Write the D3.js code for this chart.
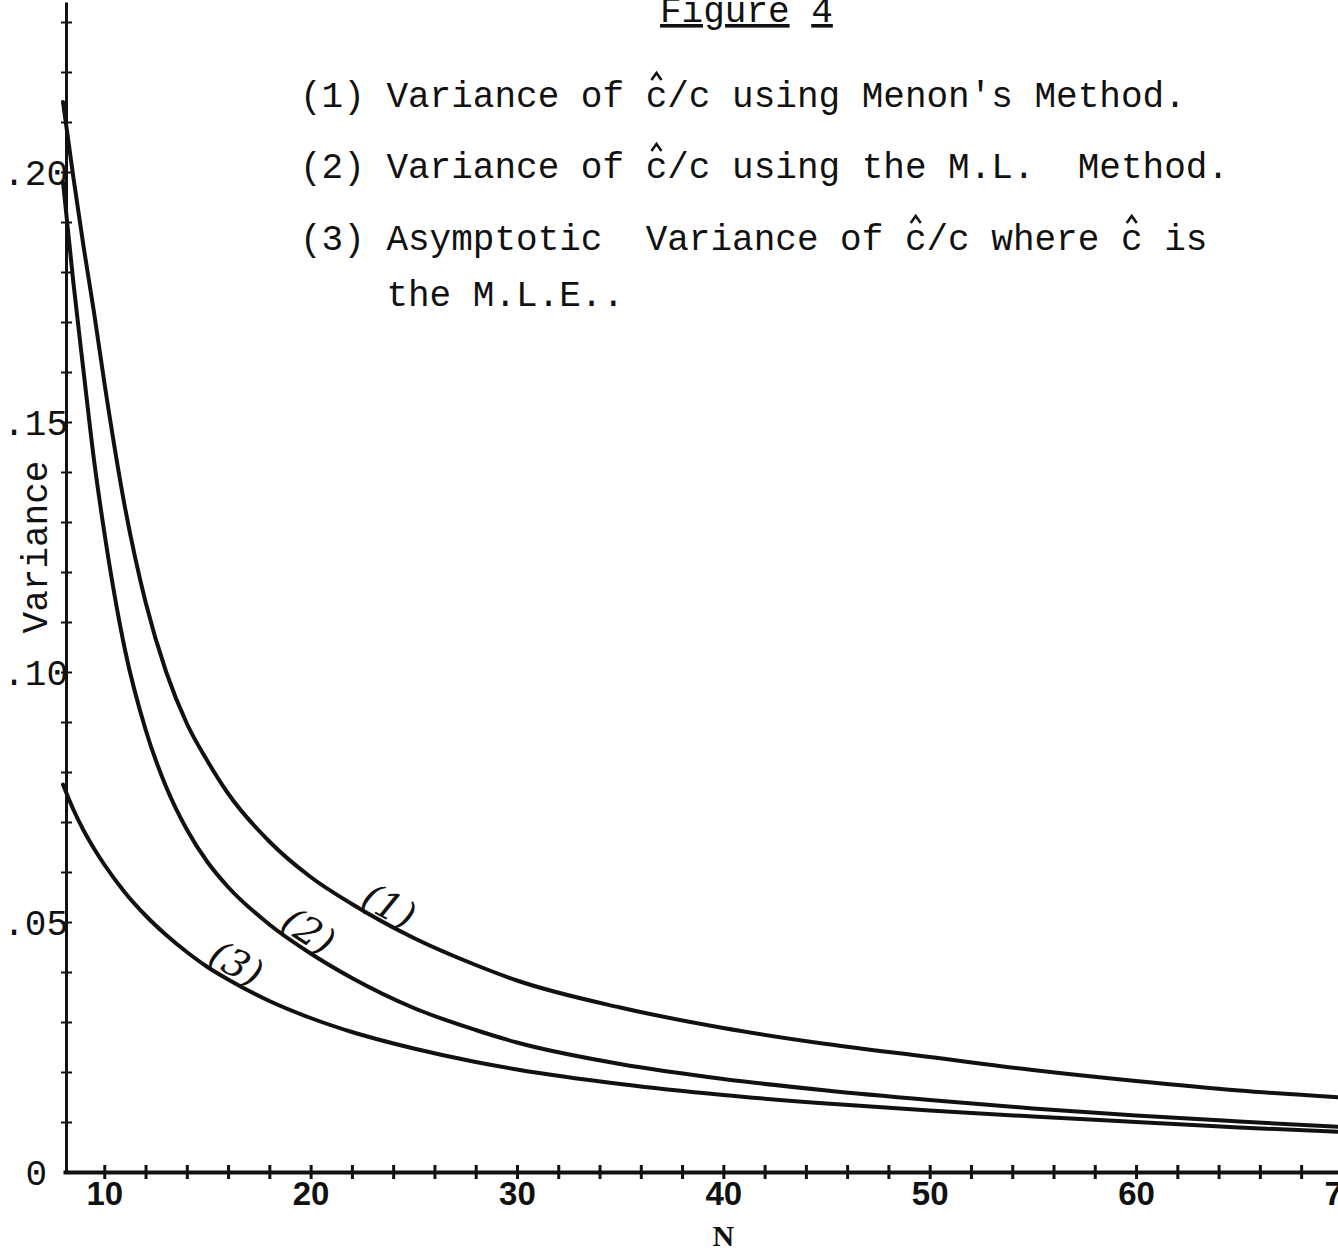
<!DOCTYPE html>
<html><head><meta charset="utf-8">
<script src="https://cdn.jsdelivr.net/npm/d3@7"></script>
<style>
html,body{margin:0;padding:0;background:#fff;}
svg{display:block;}
.mono{font-family:"Liberation Mono","DejaVu Sans Mono",monospace;white-space:pre;fill:#111;}
</style></head><body>
<svg id="chart" width="1338" height="1252"></svg>
<script>
// ---- data ----
const sampleN = [8, 8.5, 9, 9.5, 10, 11, 12, 13, 14, 15, 16, 18, 20, 22, 25, 28, 30, 35, 40, 45, 50, 55, 60, 65, 70];
const varMenon = [0.214, 0.199, 0.185, 0.172, 0.158, 0.133, 0.114, 0.1, 0.0897, 0.0822, 0.0757, 0.0661, 0.059, 0.0536, 0.0468, 0.0414, 0.0383, 0.0329, 0.0288, 0.0256, 0.023, 0.0204, 0.0182, 0.0163, 0.0149];
const varML    = [0.198, 0.178, 0.160, 0.1425, 0.128, 0.1045, 0.0885, 0.077, 0.0685, 0.062, 0.057, 0.0495, 0.0437, 0.0388, 0.0328, 0.0284, 0.0259, 0.0216, 0.0186, 0.0163, 0.0144, 0.0127, 0.0113, 0.0101, 0.009];
const varAsym  = [0.0775, 0.0725, 0.0683, 0.0647, 0.0615, 0.0559, 0.0513, 0.0474, 0.044, 0.041, 0.0385, 0.0342, 0.0308, 0.028, 0.0247, 0.022, 0.0205, 0.0176, 0.0154, 0.0137, 0.0123, 0.0111, 0.0100, 0.0089, 0.008];
const seriesNames = ["(1)", "(2)", "(3)"];
const xMajorTicks = [10, 20, 30, 40, 50, 60, 70];
const xMinorTicks = [10,12,14,16,18,20,22,24,26,28,30,32,34,36,38,40,42,44,46,48,50,52,54,56,58,60,62,64,66,68,70];
const yMajorTicks = [0.20, 0.15, 0.10, 0.05, 0];
const yTickLabels = [".20", ".15", ".10", ".05", "0"];
const yMinorTicks = [0.01,0.02,0.03,0.04,0.05,0.06,0.07,0.08,0.09,0.10,0.11,0.12,0.13,0.14,0.15,0.16,0.17,0.18,0.19,0.20,0.21,0.22,0.23];
const labelN = [23.8, 19.9, 16.4];
const labelV = [0.0532, 0.0482, 0.0417];
const titleText = ["Figure", "4"];
const legendLines = [
  "(1) Variance of c/c using Menon's Method.",
  "(2) Variance of c/c using the M.L.  Method.",
  "(3) Asymptotic  Variance of c/c where c is",
  "    the M.L.E.."
];
const legendHats = [[16], [16], [28, 38], []];
const yTitle = "Variance";
const xTitle = "N";

// ---- drawing ----
const svg = d3.select("#chart");
const x = d3.scaleLinear().domain([8, 70]).range([63, 1342.4]);
const y = d3.scaleLinear().domain([0, 0.234]).range([1172, 2]);

// x axis
const xAxis = d3.axisBottom(x).tickValues(xMinorTicks).tickSizeOuter(0).tickSizeInner(7)
  .tickFormat(d => xMajorTicks.includes(d) ? String(d) : "");
const gx = svg.append("g").attr("transform", `translate(0,${y(0)})`).call(xAxis);
gx.select(".domain").attr("stroke", "#111").attr("stroke-width", 4);
gx.selectAll(".tick line").attr("y1", -7).attr("y2", 7).attr("stroke", "#111").attr("stroke-width", 3);
gx.selectAll(".tick text").attr("y", 10).attr("dy", "0.71em")
  .attr("font-family", "'Liberation Sans', Arial, sans-serif").attr("font-weight", "bold")
  .attr("font-size", 33).attr("fill", "#111");

// y axis
const yAxis = d3.axisRight(y).tickValues(yMinorTicks).tickSizeOuter(0).tickSizeInner(6).tickFormat("");
const gy = svg.append("g").attr("transform", `translate(${x(8) + 3},0)`).call(yAxis);
gy.select(".domain").attr("stroke", "#111").attr("stroke-width", 3);
gy.selectAll(".tick line").attr("x1", -5).attr("stroke", "#111").attr("stroke-width", 2);

// y tick labels
svg.append("g").selectAll("text").data(yMajorTicks).join("text")
  .attr("class", "mono")
  .attr("x", d => d === 0 ? 47 : 68)
  .attr("y", d => y(d))
  .attr("dy", "0.36em")
  .attr("text-anchor", "end")
  .attr("font-size", 36)
  .text((d, i) => yTickLabels[i]);

// axis titles
svg.append("text").attr("class", "mono")
  .attr("transform", `translate(47,${y(0.125)}) rotate(-90)`)
  .attr("text-anchor", "middle").attr("font-size", 36).text(yTitle);
svg.append("text")
  .attr("x", x(40)).attr("y", 1246).attr("text-anchor", "middle")
  .attr("font-family", "'Liberation Serif', 'DejaVu Serif', serif").attr("font-weight", "bold")
  .attr("font-size", 30).attr("fill", "#111").text(xTitle);

// curves
const allSeries = [varMenon, varML, varAsym];
const line = d3.line().x(d => x(d[0])).y(d => y(d[1])).curve(d3.curveMonotoneX);
svg.append("g").selectAll("path").data(allSeries).join("path")
  .attr("d", s => line(sampleN.map((n, i) => [n, s[i]])))
  .attr("fill", "none").attr("stroke", "#111").attr("stroke-width", 4)
  .attr("stroke-linejoin", "round").attr("stroke-linecap", "round");

// curve labels (rotated along curve)
function valueAt(s, n) {
  for (let i = 0; i < sampleN.length - 1; i++) {
    if (n >= sampleN[i] && n <= sampleN[i + 1]) {
      const t = (n - sampleN[i]) / (sampleN[i + 1] - sampleN[i]);
      return s[i] + t * (s[i + 1] - s[i]);
    }
  }
  return s[s.length - 1];
}
seriesNames.forEach((name, k) => {
  const s = allSeries[k];
  const n = labelN[k];
  const dx = x(n + 1.5) - x(n - 1.5);
  const dy = y(valueAt(s, n + 1.5)) - y(valueAt(s, n - 1.5));
  const ang = Math.atan2(dy, dx) * 180 / Math.PI;
  svg.append("text")
    .attr("transform", `translate(${x(n)},${y(labelV[k])}) rotate(${ang})`)
    .attr("text-anchor", "middle").attr("dy", "0.35em")
    .attr("font-family", "'DejaVu Serif', 'Liberation Serif', serif").attr("font-style", "italic")
    .attr("font-size", 38).attr("fill", "#111").text(name);
});

// title
const title = svg.append("text").attr("class", "mono").attr("x", 660).attr("y", 22).attr("font-size", 36);
title.append("tspan").attr("text-decoration", "underline").text(titleText[0]);
title.append("tspan").text(" ");
title.append("tspan").attr("text-decoration", "underline").text(titleText[1]);

// legend
const legendBaselines = [107, 178, 250, 306];
legendLines.forEach((t, i) => {
  const tx = svg.append("text").attr("class", "mono")
    .attr("x", 300).attr("y", legendBaselines[i]).attr("font-size", 36).text(t);
  const node = tx.node();
  legendHats[i].forEach(ci => {
    const p0 = node.getStartPositionOfChar(ci);
    const p1 = node.getEndPositionOfChar(ci);
    const cx = (p0.x + p1.x) / 2, b = legendBaselines[i];
    svg.append("path")
      .attr("d", `M${cx - 5},${b - 27} L${cx},${b - 34} L${cx + 5},${b - 27}`)
      .attr("fill", "none").attr("stroke", "#111").attr("stroke-width", 2.5);
  });
});
</script>
</body></html>
